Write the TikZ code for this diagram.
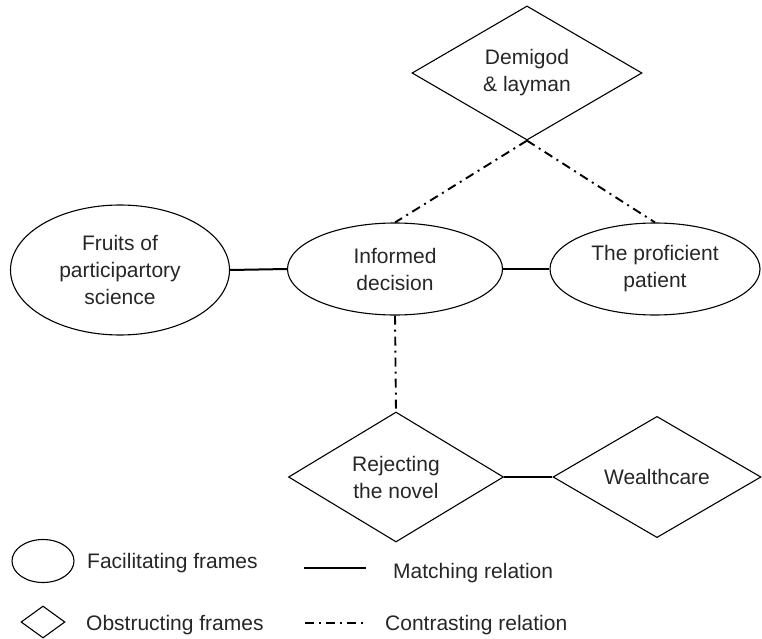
\documentclass[tikz,border=0pt]{standalone}
\usepackage{fontspec}
\setmainfont{Liberation Sans}
\usetikzlibrary{shapes.geometric}
\begin{document}
\begin{tikzpicture}[x=1pt,y=-1pt,
 frame/.style={draw, line width=1.1pt, inner sep=0pt, align=center, font=\fontsize{21}{27}\selectfont, text=black!85},
 fac/.style={frame, ellipse},
 obs/.style={frame, diamond},
 match/.style={line width=2pt},
 contrast/.style={line width=1.9pt, dash pattern=on 9pt off 5pt on 2pt off 5pt},
 lbl/.style={anchor=base west, inner sep=0pt, font=\fontsize{21}{27}\selectfont, text=black!85}]
\useasboundingbox (0,0) rectangle (762,639);
% main frames
\node[obs, minimum width=230pt, minimum height=128pt] (demi) at (527,73) {Demigod\\\& layman};
\node[fac, minimum width=219pt, minimum height=130pt] (fruits) at (120,270) {Fruits of\\participartory\\science};
\node[fac, minimum width=215pt, minimum height=92pt] (inf) at (395,269) {Informed\\decision};
\node[fac, minimum width=210pt, minimum height=92pt] (prof) at (655,269) {The proficient\\patient};
\node[obs, minimum width=215pt, minimum height=118pt] (rej) at (396,477) {Rejecting\\the novel};
\node[obs, minimum width=208pt, minimum height=118pt] (wealth) at (657,477) {Wealthcare};
% relations
\draw[match] (fruits.east) -- (inf.west);
\draw[match] (inf.east) -- (prof.west);
\draw[match] (rej.east) -- (wealth.west);
\draw[contrast] (demi.south) -- (inf.north);
\draw[contrast] (demi.south) -- (prof.north);
\draw[contrast] (inf.south) -- (rej.north);
% legend
\node[fac, minimum width=62pt, minimum height=43pt] (lfac) at (43,561) {};
\node[lbl] (tfac) at (87,568) {Facilitating frames};
\coordinate (m1) at (304,568);
\coordinate (m2) at (366,568);
\draw[match] (m1) -- (m2);
\node[lbl] (tmatch) at (393,578) {Matching relation};
\node[obs, minimum width=44pt, minimum height=32pt] (lobs) at (43,622) {};
\node[lbl] (tobs) at (86,630) {Obstructing frames};
\coordinate (c1) at (305,623);
\coordinate (c2) at (367,623);
\draw[contrast] (c1) -- (c2);
\node[lbl] (tcon) at (385,630) {Contrasting relation};
\end{tikzpicture}
\end{document}
